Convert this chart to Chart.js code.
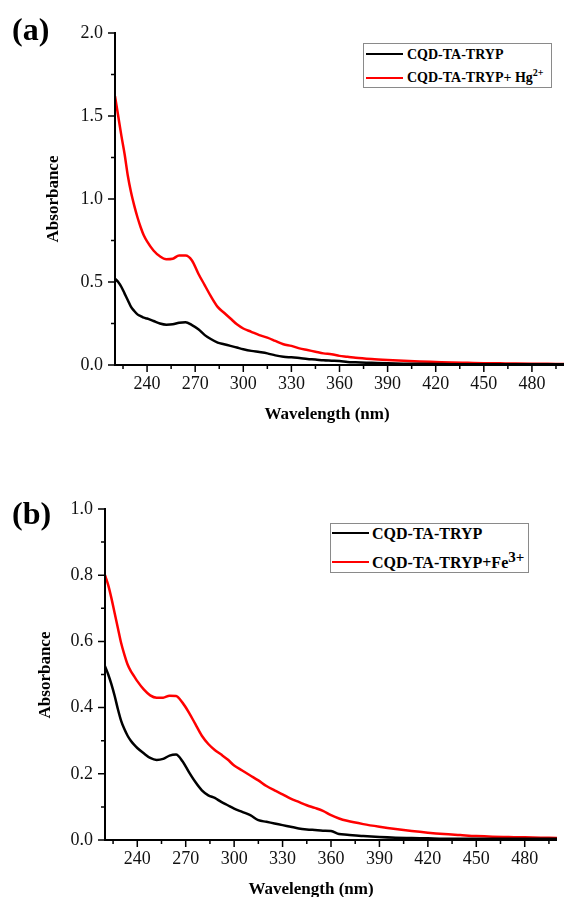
<!DOCTYPE html>
<html>
<head>
<meta charset="utf-8">
<script src="https://cdn.jsdelivr.net/npm/chart.js@4.4.0/dist/chart.umd.min.js"></script>
<style>
  body { margin: 0; background: #fff; }
  #page { position: relative; width: 564px; height: 897px; font-family: "Liberation Serif", "Times New Roman", serif; color: #000; }
  .box { position: absolute; left: 0; width: 564px; }
  .lbl { position: absolute; font-weight: bold; white-space: nowrap; line-height: 1; }
  .panel { font-size: 32px; }
  .xt { font-size: 17px; transform: translate(-50%, -50%); }
  .yt { font-size: 17px; transform: translate(-50%, -50%) rotate(-90deg); }
  .legend { position: absolute; border: 1px solid #8a8a8a; background: #fff; }
  .row { position: absolute; font-weight: bold; white-space: nowrap; line-height: 1; transform: translateY(-50%); }
  .swatch { position: absolute; height: 2px; }
  sup { line-height: 0; }
</style>
</head>
<body>
<div id="page">
  <div class="box" style="top:0;height:440px"><canvas id="chartA"></canvas></div>
  <div class="box" style="top:460px;height:437px"><canvas id="chartB"></canvas></div>

  <div class="lbl panel" style="left:12px;top:13px">(a)</div>
  <div class="lbl panel" style="left:12px;top:497px">(b)</div>

  <div class="lbl yt" style="left:52px;top:199px">Absorbance</div>
  <div class="lbl xt" style="left:327px;top:413px">Wavelength (nm)</div>
  <div class="lbl yt" style="left:44px;top:675px">Absorbance</div>
  <div class="lbl xt" style="left:311px;top:888px">Wavelength (nm)</div>

  <div class="legend" style="left:363px;top:43px;width:187px;height:43px"></div>
  <div class="swatch" style="left:366px;top:53px;width:37px;background:#000"></div>
  <div class="row" style="left:407px;top:55px;font-size:14px">CQD-TA-TRYP</div>
  <div class="swatch" style="left:366px;top:77px;width:37px;background:#f00"></div>
  <div class="row" style="left:407px;top:78px;font-size:14px">CQD-TA-TRYP+ Hg<sup style="font-size:10px">2+</sup></div>

  <div class="legend" style="left:330px;top:523px;width:197px;height:48px"></div>
  <div class="swatch" style="left:332px;top:532px;width:37px;background:#000"></div>
  <div class="row" style="left:372px;top:534px;font-size:16px">CQD-TA-TRYP</div>
  <div class="swatch" style="left:332px;top:561px;width:37px;background:#f00"></div>
  <div class="row" style="left:372px;top:563px;font-size:16px">CQD-TA-TRYP+Fe<sup style="font-size:15px">3+</sup></div>
</div>

<script>
// wavelength grid (nm) shared by all four spectra
const wavelengths = [220, 222, 224, 226, 228, 230, 232, 234, 236, 238, 240, 244, 248, 252, 256, 260, 264, 268, 272, 276,
  280, 284, 288, 292, 296, 300, 305, 310, 315, 320, 325, 330, 335, 340, 345, 350, 355, 360, 365, 370,
  380, 390, 400, 410, 420, 430, 440, 450, 460, 470, 480, 490, 500];

// panel (a)
const aBlack = [0.52, 0.50, 0.47, 0.43, 0.39, 0.35, 0.325, 0.305, 0.295, 0.285, 0.28, 0.265, 0.25, 0.243, 0.245, 0.255, 0.258, 0.24, 0.215, 0.18,
  0.155, 0.135, 0.125, 0.115, 0.105, 0.095, 0.085, 0.078, 0.07, 0.058, 0.05, 0.046, 0.042, 0.036, 0.033, 0.028, 0.026, 0.024, 0.018, 0.016,
  0.013, 0.010, 0.008, 0.007, 0.006, 0.005, 0.005, 0.004, 0.004, 0.004, 0.004, 0.004, 0.004];
const aRed = [1.62, 1.50, 1.38, 1.27, 1.14, 1.04, 0.96, 0.89, 0.83, 0.78, 0.745, 0.69, 0.655, 0.637, 0.64, 0.66, 0.66, 0.63, 0.55, 0.48,
  0.41, 0.35, 0.315, 0.28, 0.245, 0.22, 0.20, 0.18, 0.165, 0.145, 0.125, 0.115, 0.10, 0.09, 0.08, 0.07, 0.065, 0.055, 0.05, 0.044,
  0.036, 0.030, 0.025, 0.021, 0.018, 0.015, 0.013, 0.011, 0.010, 0.009, 0.008, 0.007, 0.006];

// panel (b)
const bBlack = [0.525, 0.50, 0.47, 0.435, 0.395, 0.36, 0.335, 0.315, 0.30, 0.288, 0.278, 0.262, 0.248, 0.242, 0.245, 0.255, 0.258, 0.238, 0.205, 0.175,
  0.15, 0.135, 0.127, 0.115, 0.105, 0.095, 0.085, 0.075, 0.06, 0.055, 0.05, 0.045, 0.04, 0.035, 0.032, 0.03, 0.028, 0.027, 0.018, 0.016,
  0.012, 0.009, 0.007, 0.006, 0.005, 0.004, 0.004, 0.004, 0.004, 0.004, 0.004, 0.004, 0.004];
const bRed = [0.80, 0.77, 0.73, 0.685, 0.64, 0.595, 0.56, 0.53, 0.51, 0.495, 0.48, 0.455, 0.437, 0.43, 0.43, 0.436, 0.435, 0.415, 0.385, 0.35,
  0.315, 0.29, 0.272, 0.258, 0.243, 0.225, 0.21, 0.195, 0.18, 0.163, 0.15, 0.138, 0.125, 0.115, 0.105, 0.097, 0.088, 0.075, 0.065, 0.058,
  0.048, 0.040, 0.033, 0.027, 0.022, 0.018, 0.015, 0.012, 0.010, 0.009, 0.008, 0.007, 0.006];

// ticks
const xMajorTicks = [240, 270, 300, 330, 360, 390, 420, 450, 480];
const xMinorTicks = [225, 255, 285, 315, 345, 375, 405, 435, 465, 495];
const aYMajorTicks = [0, 0.5, 1.0, 1.5, 2.0];
const aYMinorTicks = [0.25, 0.75, 1.25, 1.75];
const bYMajorTicks = [0, 0.2, 0.4, 0.6, 0.8, 1.0];
const bYMinorTicks = [0.1, 0.3, 0.5, 0.7, 0.9];

const RED = '#f00';

function pts(ys) {
  return wavelengths.map((w, i) => ({ x: w, y: ys[i] }));
}

// axis lines + outward tick marks (major long, minor short)
const axisTicks = {
  id: 'axisTicks',
  afterDraw(chart, args, opts) {
    const ctx = chart.ctx, a = chart.chartArea, x = chart.scales.x, y = chart.scales.y;
    ctx.save();
    ctx.strokeStyle = '#000';
    ctx.lineWidth = 1.5;
    ctx.beginPath();
    xMajorTicks.forEach(v => { const p = x.getPixelForValue(v); ctx.moveTo(p, a.bottom); ctx.lineTo(p, a.bottom + 7); });
    xMinorTicks.forEach(v => { const p = x.getPixelForValue(v); ctx.moveTo(p, a.bottom); ctx.lineTo(p, a.bottom + 4); });
    opts.yMajor.forEach(v => { const p = y.getPixelForValue(v); ctx.moveTo(a.left, p); ctx.lineTo(a.left - 7, p); });
    opts.yMinor.forEach(v => { const p = y.getPixelForValue(v); ctx.moveTo(a.left, p); ctx.lineTo(a.left - 4, p); });
    ctx.stroke();
    ctx.lineWidth = 2;
    ctx.beginPath();
    ctx.moveTo(a.left, a.top - 1);
    ctx.lineTo(a.left, a.bottom);
    ctx.lineTo(a.right, a.bottom);
    ctx.stroke();
    ctx.restore();
  }
};

function makeChart(id, black, red, yMax, yMajor, yMinor, yWidth, xHeight, pad) {
  return new Chart(document.getElementById(id), {
    type: 'line',
    data: {
      datasets: [
        { label: 'CQD-TA-TRYP', data: pts(black), borderColor: '#000', borderWidth: 2.5, pointRadius: 0, cubicInterpolationMode: 'monotone' },
        { label: 'CQD-TA-TRYP+', data: pts(red), borderColor: RED, borderWidth: 2.5, pointRadius: 0, cubicInterpolationMode: 'monotone' }
      ]
    },
    options: {
      responsive: true,
      maintainAspectRatio: false,
      animation: false,
      layout: { padding: pad },
      plugins: { legend: { display: false }, tooltip: { enabled: false }, axisTicks: { yMajor: yMajor, yMinor: yMinor } },
      scales: {
        x: {
          type: 'linear', min: 220, max: 500,
          grid: { display: false, drawTicks: false },
          border: { display: false },
          afterBuildTicks: s => { s.ticks = xMajorTicks.map(v => ({ value: v })); },
          afterFit: s => { s.height = xHeight; },
          ticks: { padding: 8, color: '#111', font: { family: 'Liberation Serif', size: 18 }, maxRotation: 0, autoSkip: false }
        },
        y: {
          min: 0, max: yMax,
          grid: { display: false, drawTicks: false },
          border: { display: false },
          afterBuildTicks: s => { s.ticks = yMajor.map(v => ({ value: v })); },
          afterFit: s => { s.width = yWidth; },
          ticks: { padding: 12, color: '#111', font: { family: 'Liberation Serif', size: 18 }, callback: v => v.toFixed(1) }
        }
      }
    },
    plugins: [axisTicks]
  });
}

makeChart('chartA', aBlack, aRed, 2.0, aYMajorTicks, aYMinorTicks, 115, 75, { top: 33, right: 0, left: 0, bottom: 0 });
makeChart('chartB', bBlack, bRed, 1.0, bYMajorTicks, bYMinorTicks, 105, 57, { top: 49, right: 7, left: 0, bottom: 0 });
</script>
</body>
</html>
